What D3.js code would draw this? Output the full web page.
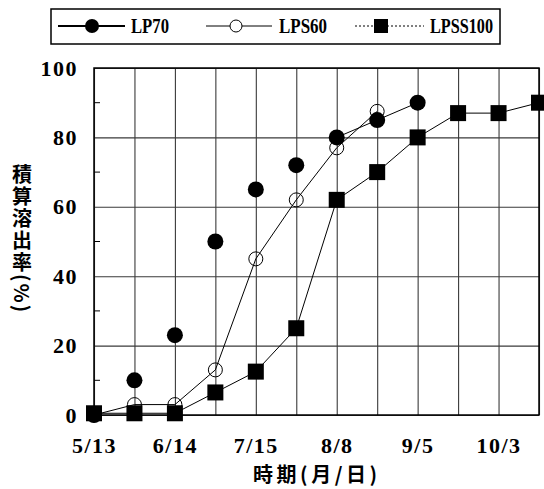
<!DOCTYPE html>
<html>
<head>
<meta charset="utf-8">
<script src="https://cdn.jsdelivr.net/npm/d3@7"></script>
<style>
  body { margin: 0; background: #fff; }
  .num { font-family: "Liberation Serif", "DejaVu Serif", serif; font-weight: bold; font-size: 22px; }
  .jp { font-family: "Noto Sans CJK JP", sans-serif; font-weight: 700; font-size: 20px; }
</style>
</head>
<body>
<div id="chart"></div>
<script>
// sampling points (one per gridline), labelled every second one
const samples = d3.range(12);
const dateLabels = ["5/13", "6/14", "7/15", "8/8", "9/5", "10/3"];
const yTicks = [0, 20, 40, 60, 80, 100];

// cumulative release (%) per sample
const lp70    = [0, 10, 23, 50, 65, 72, 80, 85, 90, null, null, null];
const lps60   = [0, 3, 3, 13, 45, 62, 77, 87.5, null, null, null, null];
const lpss100 = [0.5, 0.5, 0.5, 6.5, 12.5, 25, 62, 70, 80, 87, 87, 90];

const seriesNames = ["LP70", "LPS60", "LPSS100"];
const lp70LineFrom = 6; // the LP70 trace is only joined at the end in the original

const margin = {top: 68, right: 5, bottom: 74, left: 94},
    width = 544 - margin.left - margin.right,
    height = 489 - margin.top - margin.bottom;

const svg = d3.select("#chart")
  .append("svg")
  .attr("width", 544)
  .attr("height", 489);

const g = svg.append("g")
  .attr("transform", "translate(" + margin.left + "," + margin.top + ")");

const x = d3.scaleLinear().domain([0, samples.length - 1]).range([0, width]);
const y = d3.scaleLinear().domain([0, 100]).range([height, 0]);

// ---------------- grid + axes ----------------
const xAxis = g.append("g")
  .attr("transform", "translate(0," + height + ")")
  .call(d3.axisBottom(x)
    .tickValues(samples)
    .tickSize(-height)
    .tickPadding(22)
    .tickFormat(i => i % 2 === 0 ? dateLabels[i / 2] : ""));

const yAxis = g.append("g")
  .call(d3.axisLeft(y)
    .tickValues(yTicks)
    .tickSize(-width)
    .tickPadding(16));

[xAxis, yAxis].forEach(a => {
  a.select(".domain").remove();
  a.selectAll("line").attr("stroke", "#3a3a3a").attr("stroke-width", 1.1);
  a.selectAll("text").attr("class", "num").attr("fill", "#000")
    .attr("font-family", null).attr("font-size", null)
    .style("letter-spacing", "1.5px");
});

// minor ticks on the y axis
g.selectAll(".minor")
  .data([10, 30, 50, 70, 90])
  .enter()
  .append("line")
  .attr("x1", 0).attr("x2", 6)
  .attr("y1", d => y(d)).attr("y2", d => y(d))
  .attr("stroke", "#000").attr("stroke-width", 1);

g.append("rect")
  .attr("width", width).attr("height", height)
  .attr("fill", "none").attr("stroke", "#000").attr("stroke-width", 1.5);

// ---------------- lines ----------------
function points(values) {
  return samples.map(i => ({i: i, v: values[i]})).filter(d => d.v != null);
}

const line = d3.line().x(d => x(d.i)).y(d => y(d.v));

g.append("path")
  .datum(points(lps60))
  .attr("d", line).attr("fill", "none").attr("stroke", "#000").attr("stroke-width", 1);

g.append("path")
  .datum(points(lp70).filter(d => d.i >= lp70LineFrom))
  .attr("d", line).attr("fill", "none").attr("stroke", "#000").attr("stroke-width", 1);

g.append("path")
  .datum(points(lpss100))
  .attr("d", line).attr("fill", "none").attr("stroke", "#000").attr("stroke-width", 1);

// ---------------- markers ----------------
g.selectAll(".m60")
  .data(points(lps60))
  .enter().append("circle")
  .attr("cx", d => x(d.i)).attr("cy", d => y(d.v)).attr("r", 7)
  .attr("fill", "none").attr("stroke", "#000").attr("stroke-width", 1);

g.selectAll(".m70")
  .data(points(lp70))
  .enter().append("circle")
  .attr("cx", d => x(d.i)).attr("cy", d => y(d.v)).attr("r", 8)
  .attr("fill", "#000");

g.selectAll(".m100")
  .data(points(lpss100))
  .enter().append("rect")
  .attr("x", d => x(d.i) - 8).attr("y", d => y(d.v) - 8)
  .attr("width", 16).attr("height", 16)
  .attr("fill", "#000");

// ---------------- axis titles ----------------
svg.append("text")
  .attr("class", "jp")
  .attr("x", 315).attr("y", 482)
  .attr("text-anchor", "middle")
  .attr("textLength", 124)
  .text("時期(月/日)");

svg.append("text")
  .attr("class", "jp")
  .attr("x", 22).attr("y", 164)
  .style("writing-mode", "vertical-rl")
  .style("letter-spacing", "2px")
  .text("積算溶出率(%)");

// ---------------- legend ----------------
const legend = svg.append("g");
legend.append("rect")
  .attr("x", 51).attr("y", 9).attr("width", 449).attr("height", 35)
  .attr("fill", "#fff").attr("stroke", "#000").attr("stroke-width", 1.5);

const legendItems = [
  {name: seriesNames[0], x0: 58, x1: 125, mx: 92, tx: 131, tw: 38, lw: 2, dash: null, mark: "dot"},
  {name: seriesNames[1], x0: 206, x1: 272, mx: 236, tx: 279, tw: 48, lw: 1, dash: null, mark: "ring"},
  {name: seriesNames[2], x0: 355, x1: 424, mx: 381, tx: 430, tw: 63, lw: 1, dash: "2,2", mark: "square"}
];
const ly = 26;

legendItems.forEach(it => {
  legend.append("line")
    .attr("x1", it.x0).attr("x2", it.x1).attr("y1", ly).attr("y2", ly)
    .attr("stroke", "#000").attr("stroke-width", it.lw)
    .attr("stroke-dasharray", it.dash);
  if (it.mark === "dot") {
    legend.append("circle").attr("cx", it.mx).attr("cy", ly).attr("r", 7).attr("fill", "#000");
  } else if (it.mark === "ring") {
    legend.append("circle").attr("cx", it.mx).attr("cy", ly).attr("r", 6)
      .attr("fill", "#fff").attr("stroke", "#000").attr("stroke-width", 1);
  } else {
    legend.append("rect").attr("x", it.mx - 7).attr("y", ly - 7).attr("width", 14).attr("height", 14).attr("fill", "#000");
  }
  legend.append("text")
    .attr("class", "num")
    .attr("x", it.tx).attr("y", ly + 7)
    .attr("textLength", it.tw)
    .attr("lengthAdjust", "spacingAndGlyphs")
    .text(it.name);
});
</script>
</body>
</html>
